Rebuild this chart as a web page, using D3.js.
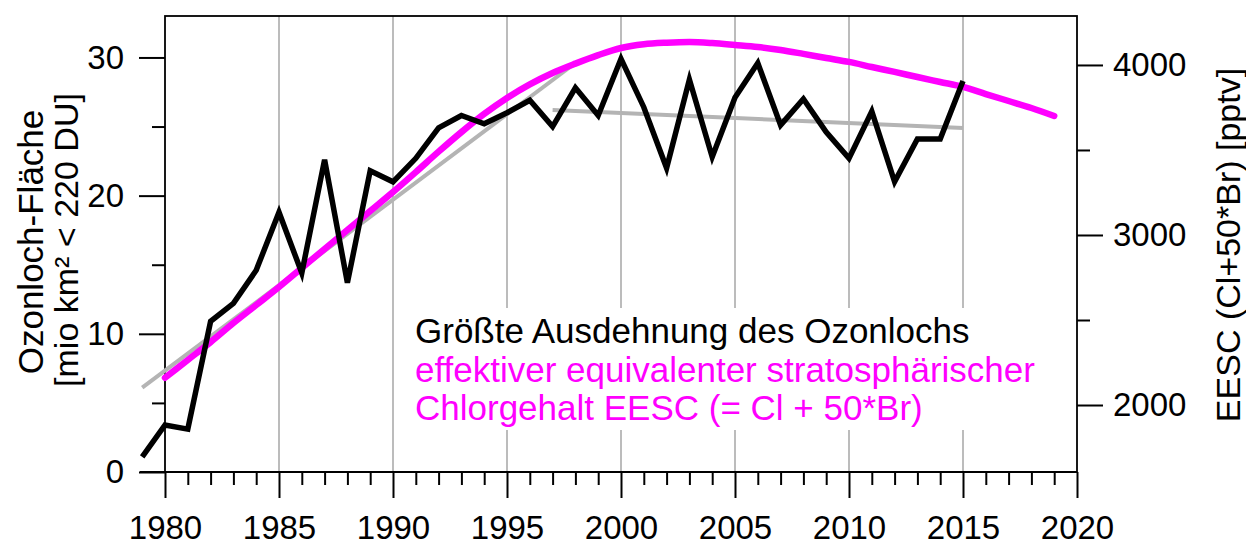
<!DOCTYPE html>
<html lang="de">
<head>
<meta charset="UTF-8">
<title>Ozonloch und EESC</title>
<script src="https://cdnjs.cloudflare.com/ajax/libs/d3/7.8.5/d3.min.js"></script>
<style>
    body { margin: 0; background: #fff; }
    svg text { font-family: "Liberation Sans", Arial, sans-serif; fill: #000; }
    .tick line { stroke: #000; stroke-width: 2px; }
    .grid { stroke: #a6a6a6; stroke-width: 1.5px; }
    .frame { fill: none; stroke: #000; stroke-width: 1.8px; }
    .ozone { fill: none; stroke: #000; stroke-width: 5.5px; }
    .eesc { fill: none; stroke: #ff00ff; stroke-width: 6.5px; stroke-linecap: round; }
    .trend { fill: none; stroke: #b4b4b4; stroke-width: 4px; }
</style>
</head>
<body>
<div class="chart"></div>
<script>
    // größte Ausdehnung des Ozonlochs, mio km2
    var ozoneYears = [1979, 1980, 1981, 1982, 1983, 1984, 1985, 1986, 1987, 1988, 1989,
        1990, 1991, 1992, 1993, 1994, 1995, 1996, 1997, 1998, 1999,
        2000, 2001, 2002, 2003, 2004, 2005, 2006, 2007, 2008, 2009,
        2010, 2011, 2012, 2013, 2014, 2015];
    var ozoneArea = [1.1, 3.4, 3.1, 10.9, 12.2, 14.6, 18.8, 14.4, 22.6, 13.7, 21.8,
        21.0, 22.7, 24.9, 25.8, 25.2, 26.0, 26.9, 25.0, 27.8, 25.8,
        29.9, 26.4, 22.0, 28.4, 22.8, 27.1, 29.6, 25.1, 27.0, 24.6,
        22.7, 26.1, 21.0, 24.1, 24.1, 28.3];

    // EESC in pptv (rechte Achse)
    var eescYears = [1980, 1981, 1982, 1983, 1984, 1985, 1986, 1987, 1988, 1989,
        1990, 1991, 1992, 1993, 1994, 1995, 1996, 1997, 1998, 1999,
        2000, 2001, 2002, 2003, 2004, 2005, 2006, 2007, 2008, 2009,
        2010, 2011, 2012, 2013, 2014, 2015, 2016, 2017, 2018, 2019];
    var eescValues = [2160, 2265, 2370, 2482, 2588, 2694, 2806, 2918, 3029, 3141,
        3253, 3370, 3490, 3605, 3712, 3806, 3886, 3953, 4008, 4058,
        4100, 4122, 4131, 4135, 4129, 4118, 4106, 4088, 4065, 4041,
        4018, 3988, 3959, 3929, 3900, 3871, 3829, 3788, 3747, 3700];

    // lineare Trends
    var trendRiseYears = [1979, 1998];
    var trendRiseValues = [6.1, 29.6];
    var trendFlatYears = [1997, 2015];
    var trendFlatValues = [26.2, 24.9];

    var majorYears = [1980, 1985, 1990, 1995, 2000, 2005, 2010, 2015, 2020];
    var minorYears = [1981, 1982, 1983, 1984, 1986, 1987, 1988, 1989, 1991, 1992, 1993, 1994,
        1996, 1997, 1998, 1999, 2001, 2002, 2003, 2004, 2006, 2007, 2008, 2009,
        2011, 2012, 2013, 2014, 2016, 2017, 2018, 2019];
    var gridYears = [1985, 1990, 1995, 2000, 2005, 2010, 2015];
    var leftTicks = [0, 10, 20, 30];
    var leftMinor = [5, 15, 25];
    var rightTicks = [2000, 3000, 4000];
    var rightMinor = [2500, 3500];

    var legendLines = [
        { text: "Größte Ausdehnung des Ozonlochs", color: "#000" },
        { text: "effektiver equivalenter stratosphärischer", color: "#ff00ff" },
        { text: "Chlorgehalt EESC (= Cl + 50*Br)", color: "#ff00ff" }
    ];

    var width = 1246, height = 546;
    var plotLeft = 165, plotRight = 1077, plotTop = 16, plotBottom = 472;

    var svg = d3.select(".chart").append("svg")
        .attr("width", width)
        .attr("height", height);

    var x = d3.scaleLinear().domain([1980, 2020]).range([plotLeft, plotRight]);
    var y = d3.scaleLinear().domain([0, 33]).range([plotBottom, plotTop]);
    var y2 = d3.scaleLinear().domain([1606, 4288]).range([plotBottom, plotTop]);

    // Gitterlinien
    svg.append("g").selectAll("line")
        .data(gridYears)
        .enter().append("line")
        .attr("class", "grid")
        .attr("x1", function(d) { return x(d); })
        .attr("x2", function(d) { return x(d); })
        .attr("y1", plotTop)
        .attr("y2", plotBottom);

    // weisser Legendenhintergrund
    svg.append("rect")
        .attr("x", 400)
        .attr("y", 308)
        .attr("width", 675)
        .attr("height", 122)
        .attr("fill", "#fff");

    // Achsen
    svg.append("g")
        .attr("transform", "translate(0," + plotBottom + ")")
        .call(d3.axisBottom(x).tickValues(majorYears).tickSize(26).tickPadding(18).tickFormat(d3.format("d")));
    svg.append("g")
        .attr("transform", "translate(0," + plotBottom + ")")
        .call(d3.axisBottom(x).tickValues(minorYears).tickSize(13).tickFormat(""));

    svg.append("g")
        .attr("transform", "translate(" + plotLeft + ",0)")
        .call(d3.axisLeft(y).tickValues(leftTicks).tickSize(26).tickPadding(15));
    svg.append("g")
        .attr("transform", "translate(" + plotLeft + ",0)")
        .call(d3.axisLeft(y).tickValues(leftMinor).tickSize(13).tickFormat(""));

    svg.append("g")
        .attr("transform", "translate(" + plotRight + ",0)")
        .call(d3.axisRight(y2).tickValues(rightTicks).tickSize(26).tickPadding(10).tickFormat(d3.format("d")));
    svg.append("g")
        .attr("transform", "translate(" + plotRight + ",0)")
        .call(d3.axisRight(y2).tickValues(rightMinor).tickSize(13).tickFormat(""));

    svg.selectAll(".domain").remove();
    svg.selectAll(".tick text").style("font-size", "33px");

    // Rahmen und verlängerte x-Achse
    svg.append("rect")
        .attr("class", "frame")
        .attr("x", plotLeft)
        .attr("y", plotTop)
        .attr("width", plotRight - plotLeft)
        .attr("height", plotBottom - plotTop);
    svg.append("line")
        .attr("class", "frame")
        .attr("x1", x(1978.9))
        .attr("x2", plotRight)
        .attr("y1", plotBottom)
        .attr("y2", plotBottom);

    // Trendlinien
    var trendLine = d3.line()
        .x(function(d) { return x(d[0]); })
        .y(function(d) { return y(d[1]); });
    svg.append("path")
        .datum(d3.zip(trendRiseYears, trendRiseValues))
        .attr("class", "trend")
        .attr("d", trendLine);
    svg.append("path")
        .datum(d3.zip(trendFlatYears, trendFlatValues))
        .attr("class", "trend")
        .attr("d", trendLine);

    // EESC
    var eescLine = d3.line()
        .curve(d3.curveMonotoneX)
        .x(function(d) { return x(d[0]); })
        .y(function(d) { return y2(d[1]); });
    svg.append("path")
        .datum(d3.zip(eescYears, eescValues))
        .attr("class", "eesc")
        .attr("d", eescLine);

    // Ozonloch-Fläche
    var ozoneLine = d3.line()
        .x(function(d) { return x(d[0]); })
        .y(function(d) { return y(d[1]); });
    svg.append("path")
        .datum(d3.zip(ozoneYears, ozoneArea))
        .attr("class", "ozone")
        .attr("d", ozoneLine);

    // Legende
    svg.append("g").selectAll("text")
        .data(legendLines)
        .enter().append("text")
        .attr("x", 415)
        .attr("y", function(d, i) { return 343 + i * 38.5; })
        .style("font-size", "35px")
        .style("fill", function(d) { return d.color; })
        .text(function(d) { return d.text; });

    // Achsentitel
    svg.append("text")
        .attr("transform", "translate(43,242) rotate(-90)")
        .attr("text-anchor", "middle")
        .style("font-size", "35px")
        .text("Ozonloch-Fläche");
    svg.append("text")
        .attr("transform", "translate(78,240) rotate(-90)")
        .attr("text-anchor", "middle")
        .style("font-size", "34px")
        .text("[mio km² < 220 DU]");
    svg.append("text")
        .attr("transform", "translate(1240,245) rotate(-90)")
        .attr("text-anchor", "middle")
        .style("font-size", "34px")
        .text("EESC (Cl+50*Br) [pptv]");
</script>
</body>
</html>
